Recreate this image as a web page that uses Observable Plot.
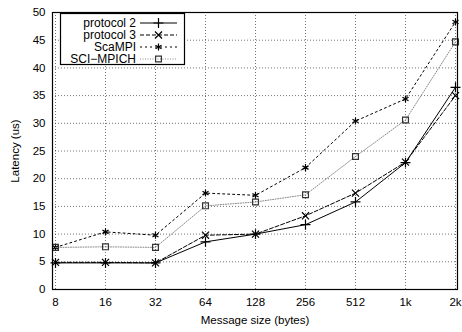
<!DOCTYPE html>
<html><head><meta charset="utf-8">
<script src="https://cdn.jsdelivr.net/npm/d3@7"></script>
<script src="https://cdn.jsdelivr.net/npm/@observablehq/plot@0.6"></script>
<style>
body{margin:0;background:#fff;}
#wrap{position:relative;width:462px;height:332px;font-family:"Liberation Sans",Arial,sans-serif;}
#legend{position:absolute;left:60px;top:13px;overflow:visible;}
</style></head>
<body><div id="wrap"></div>
<script>
const sizes = ["8","16","32","64","128","256","512","1k","2k"];
const yTicks = [0,5,10,15,20,25,30,35,40,45,50];
const protocol2 = [4.8,4.8,4.8,8.6,10.0,11.7,15.8,22.9,36.5];
const protocol3 = [4.9,4.9,4.8,9.8,10.0,13.3,17.4,23.0,35.0];
const scampi    = [7.6,10.4,9.8,17.4,17.0,22.0,30.4,34.4,48.3];
const scimpich  = [7.6,7.7,7.6,15.1,15.8,17.1,24.0,30.6,44.7];

const seriesNames = ["protocol 2","protocol 3","ScaMPI","SCI\u2212MPICH"];
const seriesVals = [protocol2, protocol3, scampi, scimpich];
const styles = [
  {stroke:"#000", dash:null, sym:"plus", symStroke:"#000"},
  {stroke:"#000", dash:"4,2", sym:"times", symStroke:"#000"},
  {stroke:"#000", dash:"2,3", sym:"asterisk", symStroke:"#000"},
  {stroke:"#888", dash:"1,1.5", sym:"square", symStroke:"#333"}
];
const symMap = {plus:d3.symbolPlus, times:d3.symbolTimes, asterisk:d3.symbolAsterisk, square:d3.symbolSquare};

const marks = [
  Plot.gridX({stroke:"#000", strokeOpacity:0.55, strokeDasharray:"1,2"}),
  Plot.gridY(yTicks, {stroke:"#000", strokeOpacity:0.55, strokeDasharray:"1,2"}),
];
seriesNames.forEach((name,i)=>{
  const data = sizes.map((s,j)=>({size:s, value:seriesVals[i][j]}));
  const st = styles[i];
  marks.push(Plot.line(data,{x:"size", y:"value", stroke:st.stroke, strokeWidth:1, strokeDasharray:st.dash||undefined}));
  marks.push(Plot.dot(data,{x:"size", y:"value", symbol:()=>st.sym, r:3.3, stroke:st.symStroke, fill:"none", strokeWidth:1.2}));
});
marks.push(Plot.frame({stroke:"#000", strokeWidth:1.2}));

const chart = Plot.plot({
  width:462, height:332,
  marginLeft:52, marginRight:5, marginTop:12, marginBottom:43,
  style:{fontFamily:"'Liberation Sans', Arial, sans-serif", fontSize:"11.5px", color:"#000", background:"#fff"},
  x:{type:"point", domain:sizes, padding:0, label:"Message size (bytes)", labelAnchor:"center", labelOffset:34, tickSize:0, tickPadding:8},
  y:{domain:[0,50], ticks:yTicks, label:"Latency (us)", labelAnchor:"center", labelOffset:42, labelArrow:"none", tickSize:0, tickPadding:7},
  marks
});
const wrap = document.getElementById("wrap");
wrap.appendChild(chart);

// legend
const W = 125, H = 52;
const leg = d3.create("svg").attr("id","legend").attr("width",W).attr("height",H+4)
  .style("font-family","'Liberation Sans', Arial, sans-serif").style("font-size","12px");
leg.append("rect").attr("x",0.5).attr("y",0.5).attr("width",W-1).attr("height",H-1)
  .attr("fill","#fff").attr("stroke","#000").attr("stroke-width",1.2);
seriesNames.forEach((name,i)=>{
  const st = styles[i];
  const cy = 9.5 + i*12;
  leg.append("text").attr("x",76).attr("y",cy).attr("dy","0.35em").attr("text-anchor","end").text(name);
  leg.append("line").attr("x1",80).attr("x2",117).attr("y1",cy+0.5).attr("y2",cy+0.5)
    .attr("stroke",st.stroke).attr("stroke-width",1).attr("stroke-dasharray",st.dash);
  leg.append("path").attr("d",d3.symbol(symMap[st.sym], Math.PI*3.3*3.3)())
    .attr("transform",`translate(98.5,${cy+0.5})`).attr("fill","none").attr("stroke",st.symStroke).attr("stroke-width",1.2);
});
wrap.appendChild(leg.node());
</script>
</body></html>
